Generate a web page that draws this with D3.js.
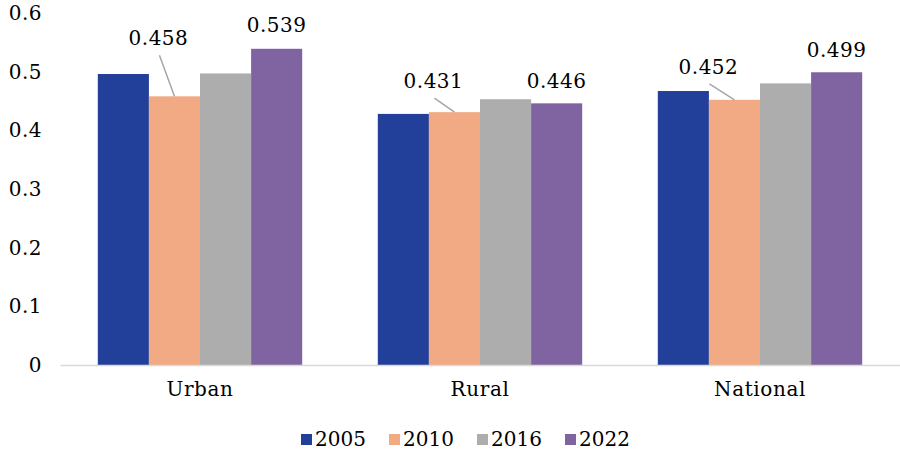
<!DOCTYPE html>
<html>
<head>
<meta charset="utf-8">
<script src="https://cdn.jsdelivr.net/npm/d3@7"></script>
<style>
  body { margin: 0; background: #fff; }
  text { font-family: "DejaVu Serif", serif; fill: #000; }
</style>
</head>
<body>
<svg width="900" height="452"></svg>
<script>
const regions = ["Urban", "Rural", "National"];
const years = ["2005", "2010", "2016", "2022"];
const colors = ["#22409a", "#f2aa84", "#adadad", "#8064a2"];
// values per year, in region order
const v2005 = [0.496, 0.428, 0.467];
const v2010 = [0.458, 0.431, 0.452];
const v2016 = [0.497, 0.453, 0.480];
const v2022 = [0.539, 0.446, 0.499];
const yTicks = [0, 0.1, 0.2, 0.3, 0.4, 0.5, 0.6];

const series = [v2005, v2010, v2016, v2022];

// labelled bars: [region index, year index, leader line?, label offset x, label offset y]
const labels = [
    [0, 1, true, -16, -51],
    [0, 3, false, 0, -17],
    [1, 1, true, -21, -24],
    [1, 3, false, 0, -15],
    [2, 1, true, -26, -26],
    [2, 3, false, 0, -15]
];

const svg = d3.select("svg"),
    margin = {top: 13, right: 0, bottom: 87, left: 60},
    width = +svg.attr("width") - margin.left - margin.right,
    height = +svg.attr("height") - margin.top - margin.bottom;

const g = svg.append("g")
    .attr("transform", `translate(${margin.left},${margin.top})`);

const x = d3.scaleBand()
    .domain(regions)
    .range([0, width])
    .paddingInner(0.27)
    .paddingOuter(0.135);

const xi = d3.scaleBand()
    .domain(years)
    .range([0, x.bandwidth()]);

const y = d3.scaleLinear()
    .domain([0, 0.6])
    .range([height, 0]);

// y axis labels
g.append("g")
    .call(d3.axisLeft(y).tickValues(yTicks).tickSize(0).tickPadding(18)
        .tickFormat(d => d === 0 ? "0" : d3.format(".1f")(d)))
    .call(a => a.select(".domain").remove())
    .selectAll("text")
    .style("font-family", "DejaVu Serif")
    .style("font-size", "20px")
    .style("letter-spacing", "0.5px");

// bars
const data = [];
regions.forEach((r, i) => years.forEach((yr, j) => data.push({r, yr, i, j, v: series[j][i]})));

g.selectAll("rect")
    .data(data)
    .join("rect")
    .attr("x", d => x(d.r) + xi(d.yr))
    .attr("y", d => y(d.v))
    .attr("width", xi.bandwidth())
    .attr("height", d => height - y(d.v))
    .attr("fill", d => colors[d.j]);

// x axis
g.append("g")
    .attr("transform", `translate(0,${height})`)
    .call(d3.axisBottom(x).tickSize(0).tickPadding(17))
    .call(a => a.select(".domain").attr("stroke", "#d9d9d9").attr("stroke-width", 1.5))
    .selectAll("text")
    .style("font-family", "DejaVu Serif")
    .style("font-size", "20px")
    .style("letter-spacing", "0.6px");

// data labels
labels.forEach(([i, j, leader, dx, dy]) => {
    const v = series[j][i];
    const cx = x(regions[i]) + xi(years[j]) + xi.bandwidth() / 2;
    const top = y(v);
    if (leader) {
        g.append("line")
            .attr("x1", cx + dx + 1).attr("y1", top + dy + 10)
            .attr("x2", cx).attr("y2", top)
            .attr("stroke", "#a6a6a6").attr("stroke-width", 1.5);
    }
    g.append("text")
        .attr("x", cx + dx)
        .attr("y", top + dy)
        .attr("text-anchor", "middle")
        .style("font-size", "20px")
        .style("letter-spacing", "0.5px")
        .text(d3.format(".3f")(v));
});

// legend
const legend = svg.append("g")
    .attr("transform", "translate(301,440)");

const item = legend.selectAll("g")
    .data(years)
    .join("g")
    .attr("transform", (d, k) => `translate(${k * 88},0)`);

item.append("rect")
    .attr("x", 0).attr("y", -6)
    .attr("width", 11).attr("height", 11)
    .attr("fill", (d, k) => colors[k]);

item.append("text")
    .attr("x", 14)
    .attr("y", 6)
    .style("font-size", "20px")
    .text(d => d);
</script>
</body>
</html>
